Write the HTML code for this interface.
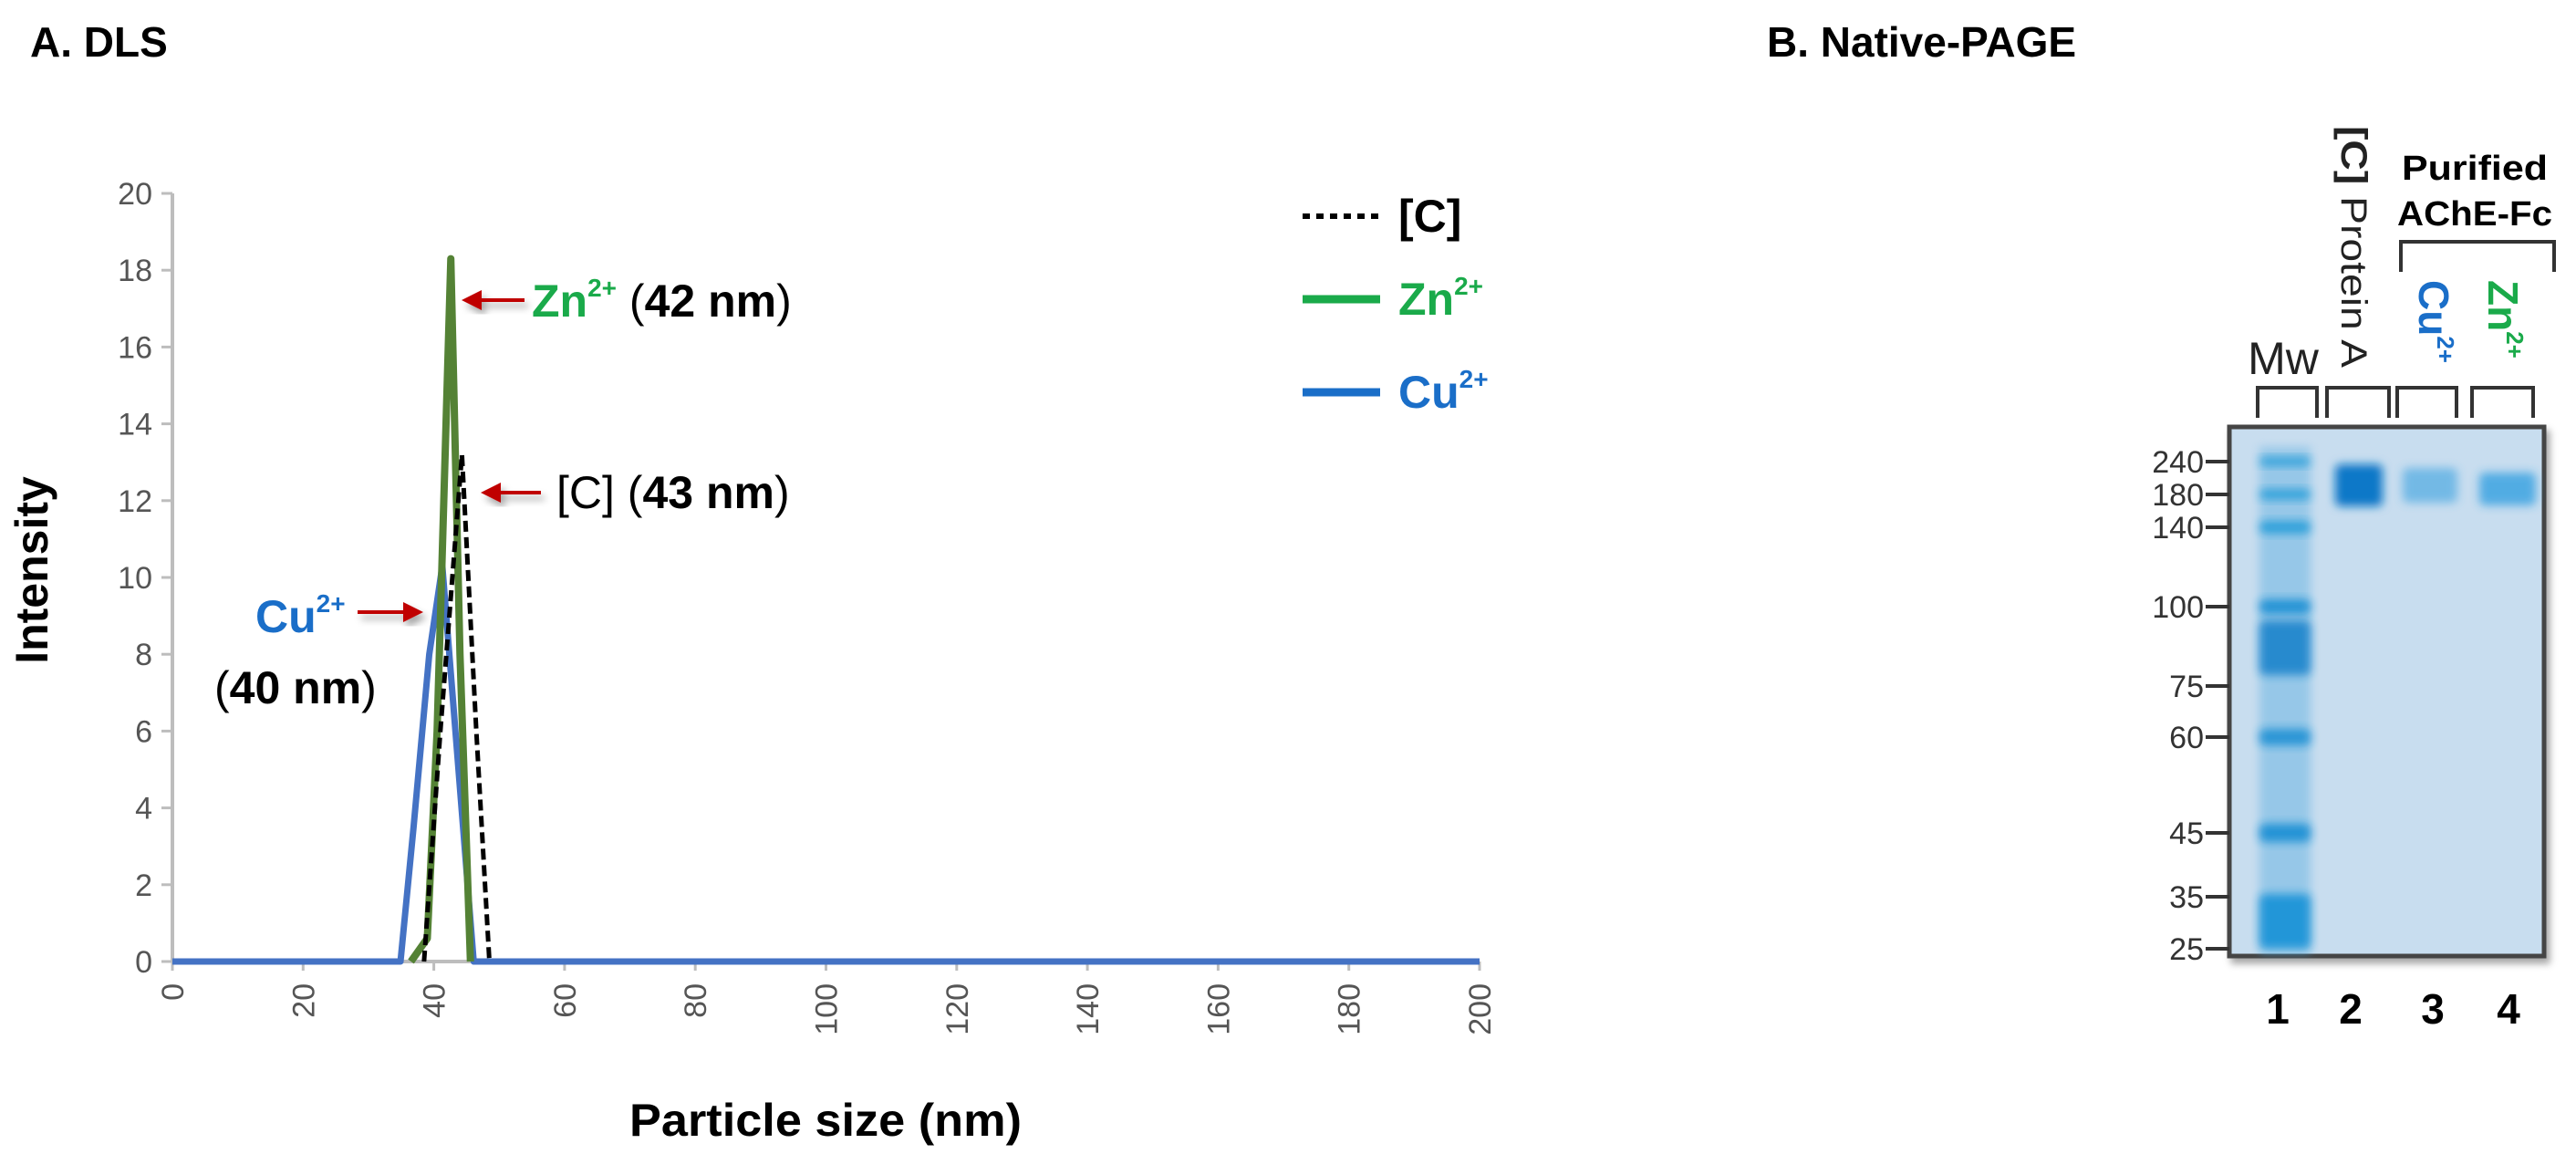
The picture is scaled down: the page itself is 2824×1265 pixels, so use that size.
<!DOCTYPE html>
<html><head><meta charset="utf-8"><style>
html,body{margin:0;padding:0;background:#fff;}
svg{display:block;font-family:"Liberation Sans",sans-serif;}
</style></head><body>
<svg id="fig" width="2824" height="1265" viewBox="0 0 2824 1265" xmlns="http://www.w3.org/2000/svg">
<defs>
<filter id="blur" x="-20%" y="-50%" width="140%" height="200%"><feGaussianBlur stdDeviation="5"/></filter>
<filter id="sh" x="-10%" y="-10%" width="130%" height="130%"><feDropShadow dx="4" dy="6" stdDeviation="4" flood-color="#000" flood-opacity="0.35"/></filter>
</defs>
<text x="33" y="62" font-size="46" font-weight="bold">A. DLS</text>
<text x="1937" y="62" font-size="46" font-weight="bold">B. Native-PAGE</text>
<g id="chart"></g>
<g id="gel"></g>
</svg>
<script>
const xTicks=[0,20,40,60,80,100,120,140,160,180,200];
const yTicks=[0,2,4,6,8,10,12,14,16,18,20];
const cX=[38.5,41,44.3,46.5,48.5];
const cY=[0,6,13.2,6,0];
const znX=[36.5,39,40.5,42.6,44,45.6];
const znY=[0,0.6,6,18.3,8,0];
const cuX=[0,34.9,36.9,39.3,41.3,46.1,200];
const cuY=[0,0,3.5,8,10.3,0,0];
const markerLabels=["240","180","140","100","75","60","45","35","25"];
const markerYs=[506,542,578,665,752,808,913,983,1040];
const NS="http://www.w3.org/2000/svg";
const X=v=>189+v*7.165;
const Y=v=>1054-v*42.1;
function mk(tag,attrs,parent,txt){const e=document.createElementNS(NS,tag);for(const k in attrs)e.setAttribute(k,attrs[k]);if(txt!==undefined)e.textContent=txt;parent.appendChild(e);return e;}
const ch=document.getElementById('chart');
let a=mk('line',{x1:X(0),y1:Y(0),x2:X(0),y2:Y(20),stroke:'#bdbdbd','stroke-width':4},ch);

a=mk('line',{x1:X(0),y1:Y(0),x2:X(200),y2:Y(0),stroke:'#bdbdbd','stroke-width':4},ch);

yTicks.forEach(t=>{
 const l=mk('line',{x1:X(0)-12,y1:Y(t),x2:X(0),y2:Y(t),stroke:'#bdbdbd','stroke-width':3},ch);
 
 const tx=mk('text',{x:X(0)-22,y:Y(t)+12,'font-size':34,'text-anchor':'end',fill:'#555'},ch,String(t));
 
});
xTicks.forEach(t=>{
 const l=mk('line',{x1:X(t),y1:Y(0),x2:X(t),y2:Y(0)+10,stroke:'#bdbdbd','stroke-width':3},ch);
 
 const tx=mk('text',{x:0,y:0,'font-size':34,'text-anchor':'end',fill:'#555',transform:`translate(${X(t)+12},${Y(0)+24}) rotate(-90)`},ch,String(t));
 
});
function series(xs,ys,col,w,dash,name){
 const p=mk('polyline',{points:xs.map((x,i)=>X(x)+','+Y(ys[i])).join(' '),fill:'none',stroke:col,'stroke-width':w,'stroke-linejoin':'round'},ch);
 if(dash)p.setAttribute('stroke-dasharray',dash);
 
}
series(cuX,cuY,'#4472c4',7,null,'series-cu');
series(znX,znY,'#548235',8,null,'series-zn');
series(cX,cY,'#000',5,'12 6','series-control');
let t=mk('text',{x:0,y:0,'font-size':50,'font-weight':'bold',transform:'translate(52,625) rotate(-90)','text-anchor':'middle'},ch,'Intensity');

t=mk('text',{x:905,y:1245,'font-size':50,'font-weight':'bold','text-anchor':'middle',textLength:430,lengthAdjust:'spacingAndGlyphs'},ch,'Particle size (nm)');

const leg=[['[C]','#000','8 7',237,'#000'],['Zn','#1aaa4a',null,328,'#1aaa4a'],['Cu','#1a6ec8',null,430,'#1a6ec8']];
leg.forEach(L=>{
 const l=mk('line',{x1:1428,y1:L[3],x2:1513,y2:L[3],stroke:L[1],'stroke-width':L[2]?6:9},ch);
 if(L[2])l.setAttribute('stroke-dasharray',L[2]);
 
 const tx=mk('text',{x:1533,y:L[3]+17,'font-size':50,'font-weight':'bold',fill:L[4]},ch,L[0]);
 if(L[0]!=='[C]'){mk('tspan',{'font-size':28,dy:-22},tx,'2+');}
 
});
function arrow(x1,x2,y,name){
 const g=mk('g',{filter:'url(#sh)'},ch);
 mk('line',{x1:x1+16,y1:y,x2:x2,y2:y,stroke:'#c00000','stroke-width':4},g);
 mk('polygon',{points:`${x1},${y} ${x1+22},${y-11} ${x1+22},${y+11}`,fill:'#c00000'},g);
 
}
arrow(506,575,329,'zn-arrow');
arrow(527,593,540,'control-arrow');
const cuArrow=mk('g',{filter:'url(#sh)'},ch);
mk('line',{x1:392,y1:671,x2:444,y2:671,stroke:'#c00000','stroke-width':4},cuArrow);
mk('polygon',{points:'464,671 442,660 442,682',fill:'#c00000'},cuArrow);

t=mk('text',{x:583,y:347,'font-size':50,'font-weight':'bold'},ch);
mk('tspan',{fill:'#1aaa4a'},t,'Zn');mk('tspan',{fill:'#1aaa4a','font-size':28,dy:-22},t,'2+');mk('tspan',{dy:22,'font-weight':'normal'},t,' (');mk('tspan',{},t,'42 nm');mk('tspan',{'font-weight':'normal'},t,')');

t=mk('text',{x:610,y:557,'font-size':50,'font-weight':'bold'},ch);
mk('tspan',{'font-weight':'normal'},t,'[C] (');mk('tspan',{},t,'43 nm');mk('tspan',{'font-weight':'normal'},t,')');

t=mk('text',{x:280,y:693,'font-size':50,'font-weight':'bold',fill:'#1a6ec8'},ch);
mk('tspan',{},t,'Cu');mk('tspan',{'font-size':28,dy:-22},t,'2+');

t=mk('text',{x:235,y:771,'font-size':50,'font-weight':'bold'},ch);
mk('tspan',{'font-weight':'normal'},t,'(');mk('tspan',{},t,'40 nm');mk('tspan',{'font-weight':'normal'},t,')');


const gel=document.getElementById('gel');
let r=mk('rect',{x:2444,y:468,width:345,height:580,fill:'#c8ddef',stroke:'#444','stroke-width':5,filter:'url(#sh)'},gel);

mk('rect',{x:2447,y:471,width:339,height:574,fill:'#c8ddef'},gel);
let wash=mk('rect',{x:2477,y:490,width:56,height:555,fill:'#5aaee0',opacity:0.45,filter:'url(#blur)'},gel);

const bands=[[2477,56,506,10,'#1e9ad8',0.8],[2477,56,542,12,'#1e9ad8',0.8],[2477,56,578,14,'#1e9ad8',0.85],
[2477,56,665,16,'#1e90d4',0.95],[2477,56,710,60,'#1a84cc',0.9],[2477,56,808,18,'#1e90d4',0.9],
[2477,56,913,20,'#1e90d4',0.95],[2477,56,1010,60,'#1c94d8',0.95],
[2560,52,532,46,'#0a78c8',1],[2634,60,532,38,'#3aa2e0',0.6],[2718,62,536,36,'#2a9ce0',0.75]];
bands.forEach(b=>{
 const e=mk('rect',{x:b[0],y:b[2]-b[3]/2,width:b[1],height:b[3],rx:6,fill:b[4],opacity:b[5],filter:'url(#blur)'},gel);
 
});
markerLabels.forEach((m,i)=>{
 const l=mk('line',{x1:2418,y1:markerYs[i],x2:2444,y2:markerYs[i],stroke:'#333','stroke-width':4},gel);
 
 const tx=mk('text',{x:2416,y:markerYs[i]+12,'font-size':34,'text-anchor':'end',fill:'#333'},gel,m);
 
});
const lanes=[[2475,2540],[2551,2619],[2628,2693],[2710,2777]];
lanes.forEach((L,i)=>{
 const p=mk('polyline',{points:`${L[0]},458 ${L[0]},425 ${L[1]},425 ${L[1]},458`,fill:'none',stroke:'#333','stroke-width':4},gel);
 
 const n=mk('text',{x:[2497,2577,2667,2750][i],y:1122,'font-size':46,'font-weight':'bold','text-anchor':'middle'},gel,String(i+1));
 
});
t=mk('text',{x:2503,y:410,'font-size':50,'text-anchor':'middle',fill:'#222'},gel,'Mw');

t=mk('text',{x:0,y:0,'font-size':40,transform:'translate(2567,138) rotate(90)',fill:'#222',textLength:265,lengthAdjust:'spacingAndGlyphs'},gel);
mk('tspan',{'font-weight':'bold'},t,'[C]');mk('tspan',{},t,' Protein A');

t=mk('text',{x:2713,y:197,'font-size':38,'font-weight':'bold','text-anchor':'middle',textLength:160,lengthAdjust:'spacingAndGlyphs'},gel,'Purified');

t=mk('text',{x:2713,y:247,'font-size':38,'font-weight':'bold','text-anchor':'middle',textLength:170,lengthAdjust:'spacingAndGlyphs'},gel,'AChE-Fc');

let p=mk('polyline',{points:'2632,298 2632,265 2800,265 2800,298',fill:'none',stroke:'#333','stroke-width':4},gel);

t=mk('text',{x:0,y:0,'font-size':46,'font-weight':'bold',fill:'#1a6ec8',transform:'translate(2652,307) rotate(90)'},gel);
mk('tspan',{},t,'Cu');mk('tspan',{'font-size':26,dy:-20},t,'2+');

t=mk('text',{x:0,y:0,'font-size':46,'font-weight':'bold',fill:'#1aaa4a',transform:'translate(2728,307) rotate(90)'},gel);
mk('tspan',{},t,'Zn');mk('tspan',{'font-size':26,dy:-20},t,'2+');

</script>
</body></html>
